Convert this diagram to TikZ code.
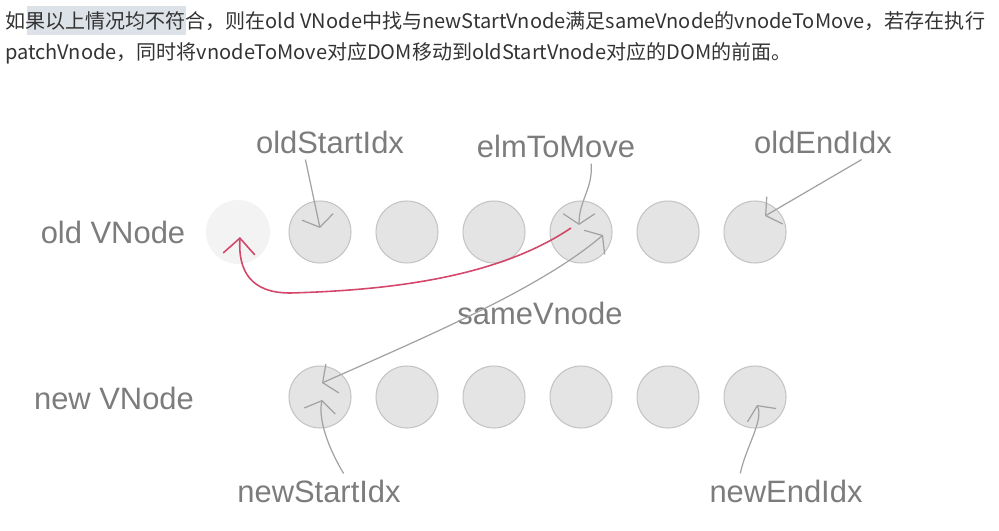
\documentclass[tikz,border=0pt]{standalone}
\usepackage{fontspec}
\setmainfont{Liberation Sans}
\newfontfamily\cjk{Noto Sans CJK SC}
\usetikzlibrary{arrows.meta}
\definecolor{ballfill}{HTML}{E4E4E4}
\definecolor{ballline}{HTML}{C4C4C4}
\definecolor{ghostfill}{HTML}{F3F3F3}
\definecolor{labgray}{HTML}{7C7C7C}
\definecolor{pengray}{HTML}{A2A2A2}
\definecolor{penred}{HTML}{D2476A}
\definecolor{txtgray}{HTML}{333333}
\definecolor{selgray}{HTML}{DDE2E8}
\begin{document}
\begin{tikzpicture}[x=0.02cm,y=-0.02cm,
main node/.style={circle,draw=ballline,fill=ballfill,line width=.6pt,inner sep=0,minimum size=1.24cm},
ghost node/.style={circle,fill=ghostfill,inner sep=0,minimum size=1.28cm},
lab/.style={text=labgray,font=\fontsize{17.6}{20}\selectfont},
txt/.style={text=txtgray,anchor=west,inner sep=0,font=\cjk\fontsize{11.4}{13}\selectfont},
pen/.style={draw=pengray,line width=.7pt,-{Straight Barb[length=6pt,width=18pt]}},
redpen/.style={draw=penred,line width=.9pt,-{Straight Barb[length=9pt,width=18pt]}}]
\useasboundingbox (0,0) rectangle (999,530);
\def\x{87};
% text on top
\fill[selgray] (27,6) rectangle (186,35);
\node[txt] (t1) at (5,21) {如果以上情况均不符合，则在old VNode中找与newStartVnode满足sameVnode的vnodeToMove，若存在执行};
\node[txt] (t2) at (5,53) {patchVnode，同时将vnodeToMove对应DOM移动到oldStartVnode对应的DOM的前面。};

\node[lab] (oldlab) at (113,232) {old VNode};
\node[lab] (newlab) at (114,398) {new VNode};

\node[ghost node] (o0) at (238,232) {};
\node[main node] (o1) at (320+0*\x,232) {};
\node[main node] (o2) at (320+1*\x,232) {};
\node[main node] (o3) at (320+2*\x,232) {};
\node[main node] (o4) at (320+3*\x,232) {};
\node[main node] (o5) at (320+4*\x,232) {};
\node[main node] (o6) at (320+5*\x,232) {};

\node[main node] (n1) at (320+0*\x,397) {};
\node[main node] (n2) at (320+1*\x,397) {};
\node[main node] (n3) at (320+2*\x,397) {};
\node[main node] (n4) at (320+3*\x,397) {};
\node[main node] (n5) at (320+4*\x,397) {};
\node[main node] (n6) at (320+5*\x,397) {};

\node[lab] (ostart) at (330,142) {oldStartIdx};
\node[lab] (elm) at (556,146) {elmToMove};
\node[lab] (oend) at (823,142) {oldEndIdx};
\node[lab] (same) at (540,313) {sameVnode};
\node[lab] (nstart) at (319,491) {newStartIdx};
\node[lab] (nend) at (786,491) {newEndIdx};

\draw [pen] ([xshift=-14]ostart.south) -- ([shift={(0,-4)}]o1.center);
\draw [pen] ([xshift=20]elm.south) .. controls +(2,25) and +(0,-25) .. ([shift={(-2,-7)}]o4.center);
\draw [pen] ([xshift=22]oend.south) -- ([shift={(10,-16)}]o6.center);
\draw [pen,{Straight Barb[length=6pt,width=18pt]}-{Straight Barb[length=6pt,width=18pt]}] ([shift={(2,-14)}]n1.center) .. controls +(108,-48) and +(-62,53) .. ([shift={(22,3)}]o4.center);
\draw [pen] ([xshift=14]nstart.north) .. controls +(-15,-25) and +(-4,20) .. ([shift={(2,3)}]n1.center);
\draw [pen] ([xshift=-26]nend.north) .. controls +(5,-25) and +(7,15) .. ([shift={(2,8)}]n6.center);

\draw [redpen] ([shift={(-10,-4)}]o4.center) .. controls +(-70,47) and +(110,-3) .. (290,293) .. controls +(-40,0) and +(-2,33) .. ([shift={(2,5)}]o0.center);
\end{tikzpicture}
\end{document}
